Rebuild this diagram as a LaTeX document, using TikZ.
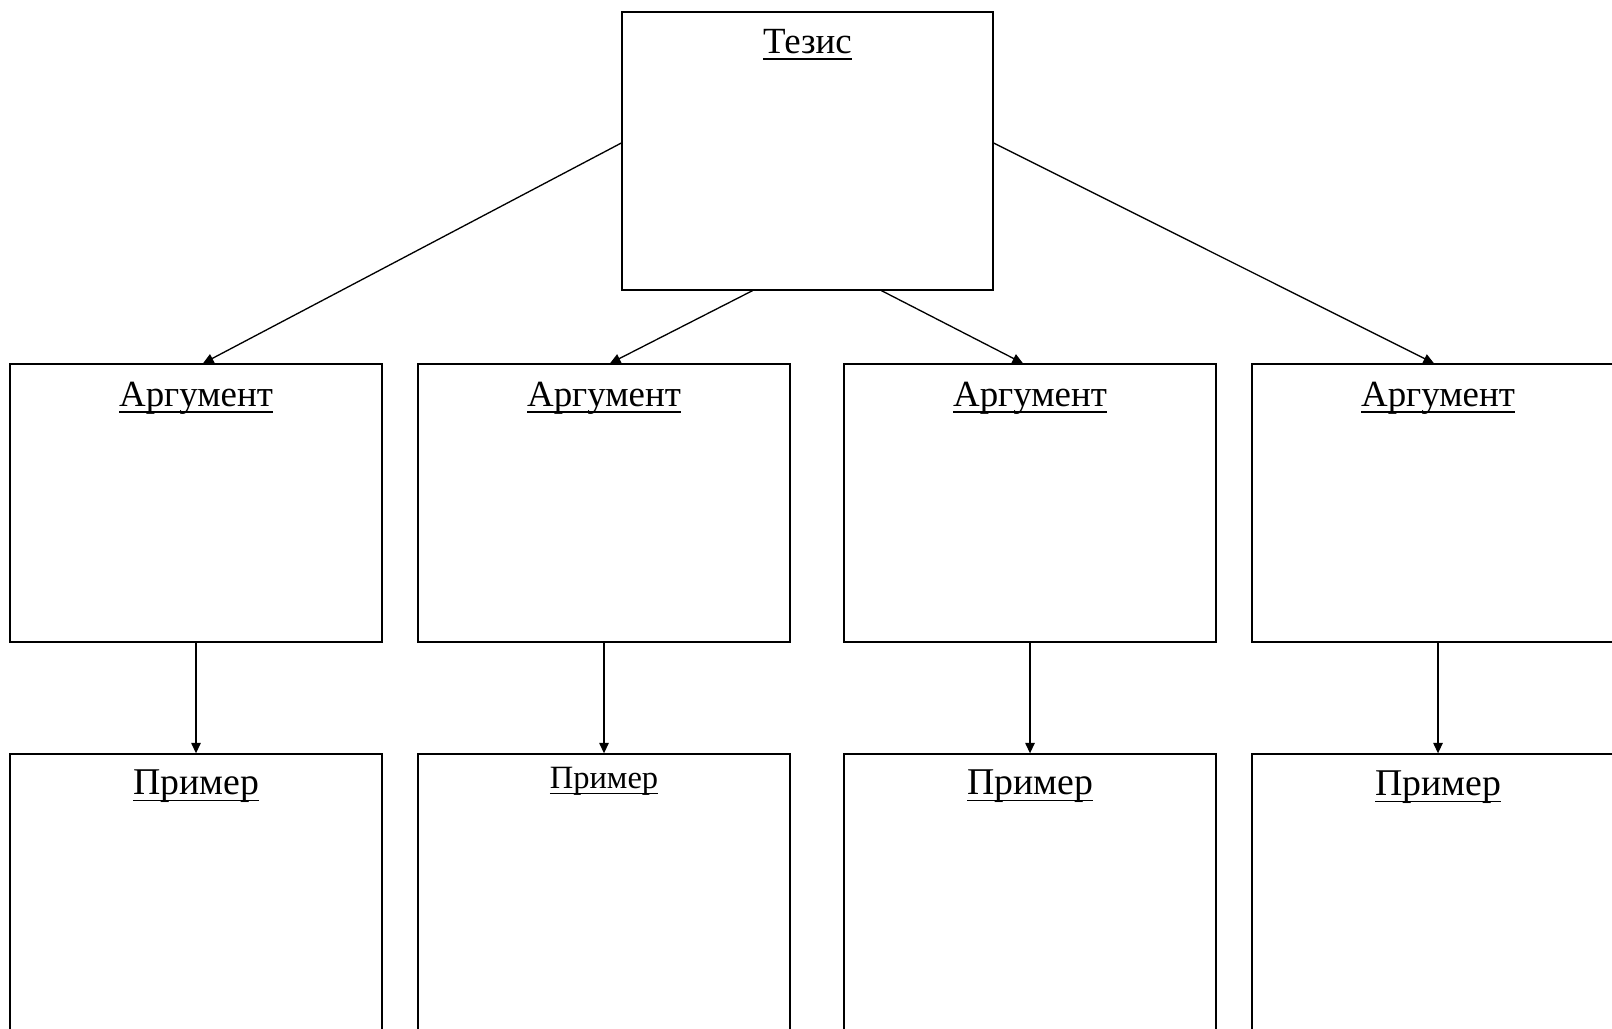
\documentclass[tikz,border=0pt]{standalone}
\usepackage{fontspec}
\setmainfont{Liberation Serif}
\usetikzlibrary{arrows.meta}
\newlength{\du}
\setlength{\du}{0.02cm}
\newcommand{\ulword}[1]{\setbox0\hbox{#1}\rlap{\rule[-0.17em]{\wd0}{0.7pt}}\box0}
\definecolor{dialinecolor}{rgb}{0.000000, 0.000000, 0.000000}
\tikzset{
  diabox/.style={draw=dialinecolor, fill=white, line width=0.75pt, minimum width=372\du, minimum height=278\du, inner sep=0pt},
  diatitle/.style={anchor=base, inner sep=0pt, text=dialinecolor, font=\fontsize{21}{24}\selectfont},
  diaarrow/.style={draw=dialinecolor, line width=0.75pt, -{Triangle[length=0.21cm,width=0.19cm]}},
}

\begin{document}
\begin{tikzpicture}
\useasboundingbox (0\du,0\du) rectangle (1612\du,1028\du);
\clip (0\du,0\du) rectangle (1612\du,1028\du);
% setfont left to latex
\node[diabox, minimum width=371\du] (tez) at (807.5\du,877\du){};
\node[diatitle] (tezT) at ([yshift=-42\du]tez.north){\ulword{Тезис}};
\foreach \i/\x in {1/196,2/604,3/1030,4/1438}{
  \node[diabox] (arg\i) at (\x\du,525\du){};
  \node[diatitle] (argT\i) at ([yshift=-43\du]arg\i.north){\ulword{Аргумент}};
  \node[diabox] (ex\i) at (\x\du,135\du){};
  \draw[diaarrow] (arg\i.south) -- (ex\i.north);
}
% setfont left to latex
\foreach \i/\d/\s in {1/41/21.5,2/35/18.5,3/41/21.5,4/42/21.5}{
  \node[diatitle, font=\fontsize{\s}{24}\selectfont] (exT\i) at ([yshift=-\d\du]ex\i.north){\ulword{Пример}};
}
\draw[diaarrow] ([yshift=8\du]tez.west) -- ([xshift=7\du]arg1.north);
\draw[diaarrow] ([xshift=-55\du]tez.south) -- ([xshift=6\du]arg2.north);
\draw[diaarrow] ([xshift=74\du]tez.south) -- ([xshift=-7\du]arg3.north);
\draw[diaarrow] ([yshift=8\du]tez.east) -- ([xshift=-4\du]arg4.north);
\end{tikzpicture}
\end{document}
